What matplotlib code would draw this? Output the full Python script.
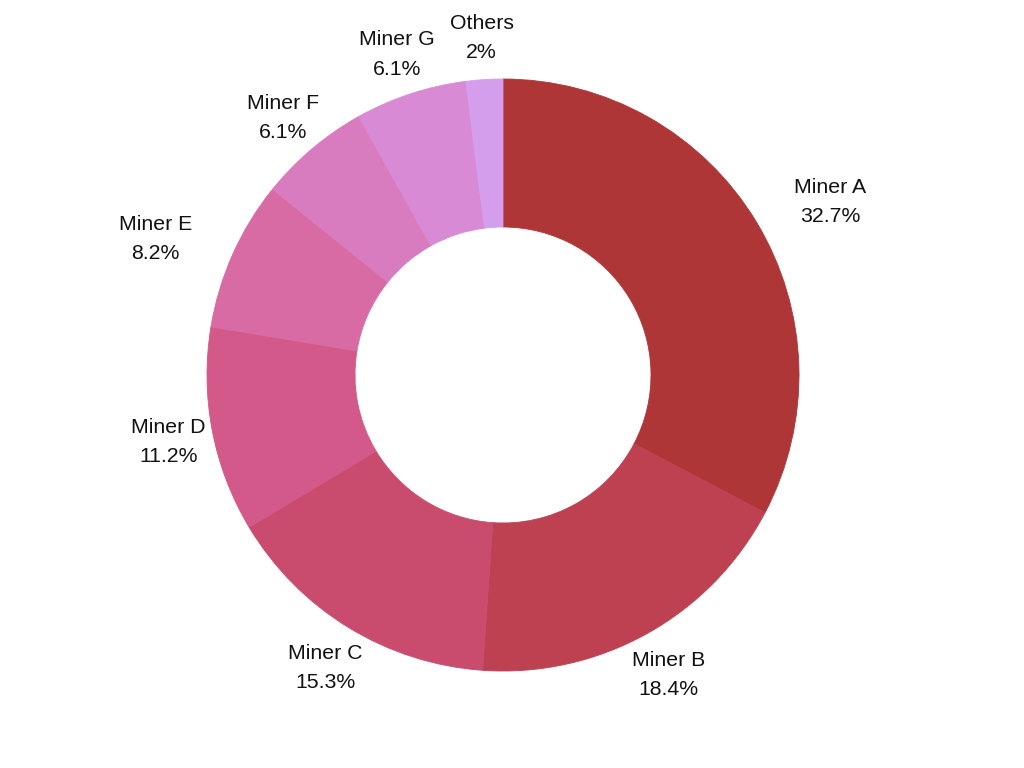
import matplotlib
matplotlib.use("Agg")
import matplotlib.pyplot as plt
import numpy as np

labels = ["Miner A", "Miner B", "Miner C", "Miner D", "Miner E", "Miner F", "Miner G", "Others"]
values = [32.7, 18.4, 15.3, 11.2, 8.2, 6.1, 6.1, 2]
pct_labels = ["32.7%", "18.4%", "15.3%", "11.2%", "8.2%", "6.1%", "6.1%", "2%"]
colors = ["#AF3636", "#BE4152", "#C94B6E", "#D25989", "#D86BA3", "#D97CBF", "#D88AD4", "#D49EED"]
aligns = ["left", "center", "center", "center", "right", "center", "center", "center"]

plt.rcParams['font.family'] = ['Liberation Sans', 'DejaVu Sans']

fig = plt.figure(figsize=(10.24, 7.68), dpi=100)
ax = fig.add_axes([0, 0, 1, 1])
R = 296.0
cx, cy = 503.0, 375.0
ax.axis('off')

wedges, _ = ax.pie(values, colors=colors, startangle=90, counterclock=False,
                   radius=1.0, wedgeprops=dict(width=0.5, linewidth=0.6))
for w, c in zip(wedges, colors):
    w.set_edgecolor(c)
ax.set_xlim(-cx / R, (1024 - cx) / R)
ax.set_ylim(-(768 - cy) / R, cy / R)
ax.set_aspect('auto')

for w, lab, pct, ha in zip(wedges, labels, pct_labels, aligns):
    ang = np.deg2rad((w.theta1 + w.theta2) / 2)
    x = 1.15 * np.cos(ang)
    y = 1.15 * np.sin(ang) - 3.0 / R
    ax.text(x, y, f"{lab}\n{pct}", ha=ha, va='center', multialignment='center',
            fontsize=15.3, color='#111111', linespacing=1.68)

fig.savefig("out.png", dpi=100, facecolor='white')
